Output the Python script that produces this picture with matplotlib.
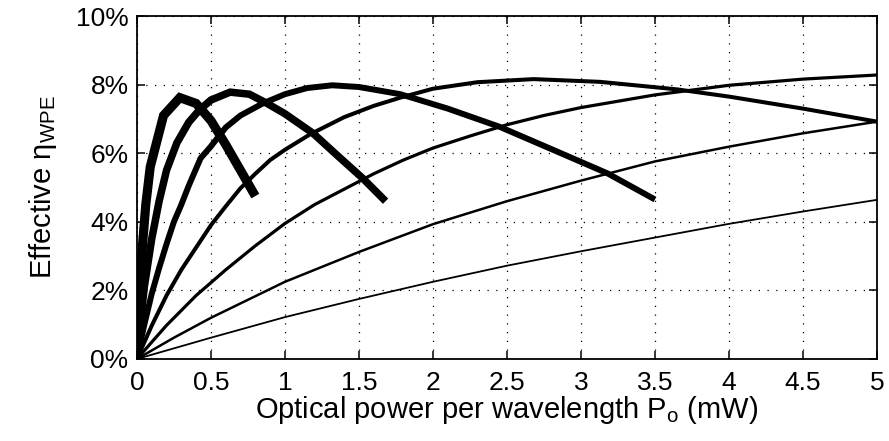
import matplotlib
matplotlib.use("Agg")
import matplotlib.pyplot as plt
from matplotlib.ticker import FixedLocator

plt.rcParams["font.family"] = ["Liberation Sans", "DejaVu Sans"]
plt.rcParams["mathtext.fontset"] = "custom"
plt.rcParams["mathtext.rm"] = "Liberation Sans"
plt.rcParams["mathtext.it"] = "Liberation Sans"
plt.rcParams["mathtext.sf"] = "Liberation Sans"

# Effective wall-plug efficiency (%) vs optical power per wavelength (mW),
# one curve per device size, smallest device (thickest line) first.
p1 = [0, 0.01, 0.03, 0.06, 0.09, 0.18, 0.29, 0.40, 0.50, 0.60, 0.70, 0.80]
e1 = [0, 1.2, 2.9, 4.5, 5.6, 7.1, 7.62, 7.45, 6.95, 6.25, 5.5, 4.75]

p2 = [0, 0.02, 0.05, 0.10, 0.15, 0.20, 0.27, 0.35, 0.42, 0.50, 0.63, 0.76,
      0.88, 1.00, 1.19, 1.35, 1.53, 1.68]
e2 = [0, 0.9, 2.1, 3.5, 4.6, 5.5, 6.3, 6.9, 7.25, 7.55, 7.78, 7.72,
      7.45, 7.15, 6.58, 5.95, 5.25, 4.6]

p3 = [0, 0.05, 0.10, 0.15, 0.20, 0.25, 0.30, 0.35, 0.43, 0.50, 0.60, 0.70,
      0.85, 1.00, 1.15, 1.32, 1.50, 1.78, 2.10, 2.45, 2.80, 3.18, 3.50]
e3 = [0, 1.0, 1.9, 2.65, 3.35, 4.0, 4.5, 5.05, 5.85, 6.2, 6.75, 7.1,
      7.45, 7.72, 7.9, 7.98, 7.93, 7.72, 7.3, 6.77, 6.12, 5.41, 4.65]

p4 = [0, 0.10, 0.20, 0.30, 0.40, 0.50, 0.60, 0.70, 0.80, 0.90, 1.00, 1.17,
      1.40, 1.60, 1.78, 2.00, 2.30, 2.68, 3.13, 3.65, 4.00, 4.50, 5.00]
e4 = [0, 0.97, 1.85, 2.6, 3.25, 3.9, 4.45, 4.98, 5.4, 5.8, 6.1, 6.55,
      7.05, 7.38, 7.62, 7.88, 8.07, 8.16, 8.08, 7.86, 7.65, 7.3, 6.92]

p5 = [0, 0.20, 0.40, 0.60, 0.80, 1.00, 1.20, 1.40, 1.60, 1.80, 2.00, 2.25,
      2.50, 2.75, 3.00, 3.50, 4.00, 4.50, 5.00]
e5 = [0, 0.98, 1.85, 2.6, 3.3, 3.95, 4.5, 4.95, 5.4, 5.8, 6.15, 6.5,
      6.83, 7.1, 7.33, 7.7, 7.98, 8.16, 8.28]

p6 = [0, 0.25, 0.50, 1.00, 1.50, 2.00, 2.50, 3.00, 3.50, 4.00, 4.50, 5.00]
e6 = [0, 0.62, 1.2, 2.25, 3.12, 3.93, 4.6, 5.2, 5.76, 6.19, 6.58, 6.92]

p7 = [0, 0.50, 1.00, 1.50, 2.00, 2.50, 3.00, 3.50, 4.00, 4.50, 5.00]
e7 = [0, 0.62, 1.22, 1.75, 2.25, 2.72, 3.14, 3.54, 3.94, 4.3, 4.64]

line_widths = [6.6, 5.4, 4.3, 2.9, 2.3, 1.8, 1.3]
join_styles = ["miter", "miter", "round", "round", "round", "round", "round"]

x_ticks = [0, 0.5, 1, 1.5, 2, 2.5, 3, 3.5, 4, 4.5, 5]
x_tick_labels = ["0", "0.5", "1", "1.5", "2", "2.5", "3", "3.5", "4", "4.5", "5"]
y_ticks = [0, 2, 4, 6, 8, 10]
y_tick_labels = ["0%", "2%", "4%", "6%", "8%", "10%"]

fig = plt.figure(figsize=(8.89, 4.41), dpi=100)
ax = fig.add_axes([0.154, 0.186, 0.8325, 0.7777])

series = [(p1, e1), (p2, e2), (p3, e3), (p4, e4), (p5, e5), (p6, e6), (p7, e7)]
for (p, e), lw, js in zip(series, line_widths, join_styles):
    ax.plot(p, e, color="black", lw=lw, solid_joinstyle=js,
            solid_capstyle="butt", zorder=3)

ax.set_xlim(0, 5)
ax.set_ylim(0, 10)
ax.xaxis.set_major_locator(FixedLocator(x_ticks))
ax.yaxis.set_major_locator(FixedLocator(y_ticks))
ax.set_xticklabels(x_tick_labels)
ax.set_yticklabels(y_tick_labels)

ax.grid(True, color="black", linestyle=(0, (1, 6)), linewidth=0.9)
ax.tick_params(direction="in", length=6, width=1.1, top=True, right=True,
               labelsize=19, colors="black")
ax.tick_params(axis="x", pad=9)
ax.tick_params(axis="y", pad=6)
for s in ax.spines.values():
    s.set_linewidth(1.3)
    s.set_color("black")

ax.set_xlabel("Optical power per wavelength P$_\\mathrm{o}$ (mW)", fontsize=21,
              labelpad=-1)
ax.set_ylabel("Effective $\\mathrm{\\eta}_\\mathrm{WPE}$", fontsize=21,
              labelpad=12)

fig.savefig("out.png", dpi=100)
